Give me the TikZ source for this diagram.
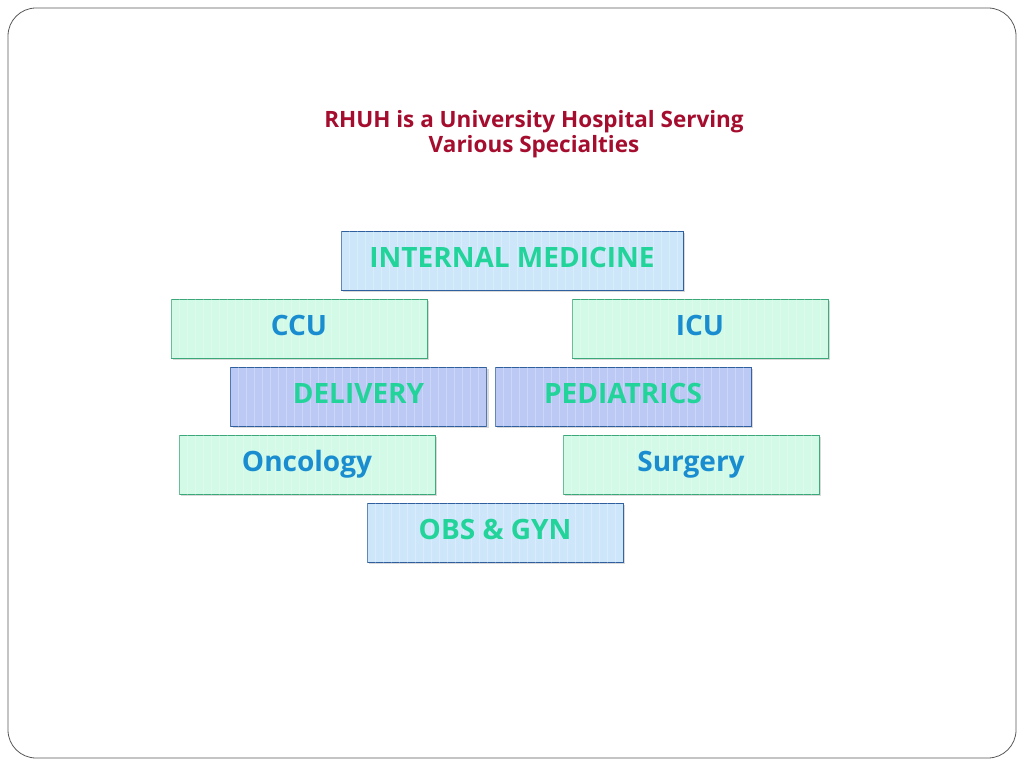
\documentclass[tikz,border=0pt]{standalone}
\usepackage{fontspec}
\setmainfont{Open Sans}
\usetikzlibrary{shadows}
\definecolor{tred}{HTML}{A50D2E}
\definecolor{tgreen}{HTML}{22D39A}
\definecolor{tblue}{HTML}{1A8CD0}
\definecolor{fblue}{HTML}{CDE6FA}
\definecolor{fgreen}{HTML}{D2FAE6}
\definecolor{flav}{HTML}{BCC9F4}
\definecolor{dblue}{HTML}{2F5F9E}
\definecolor{dgreen}{HTML}{3AA878}
\tikzset{
 box/.style={minimum width=256pt, minimum height=59pt, inner sep=0pt, drop shadow={shadow xshift=2pt,shadow yshift=-2pt,opacity=0.3}},
 bl/.style={box, fill=fblue, draw=dblue},
 gr/.style={box, fill=fgreen, draw=dgreen},
 lv/.style={box, fill=flav, draw=dblue},
 lab/.style={font=\bfseries\fontsize{28}{32}\selectfont, inner sep=0pt, text height=20pt, text depth=6pt},
}
\begin{document}
\begin{tikzpicture}[x=1pt,y=1pt]
\useasboundingbox (0,0) rectangle (1024,768);
\draw[gray!70!black, rounded corners=28pt, line width=0.8pt] (8,10) rectangle (1016,760) ;
\node[text=tred, font=\bfseries\fontsize{22.5}{24.5}\selectfont, align=center] (title) at (534,634) {RHUH is a University Hospital Serving\\Various Specialties};
\node[bl, minimum width=342pt] (im) at (512,507.5) {};
\node[gr] (ccu) at (299,439.5) {};
\node[gr] (icu) at (700,439.5) {};
\node[lv] (del) at (358.5,371) {};
\node[lv] (ped) at (623,371) {};
\node[gr] (onc) at (307,303) {};
\node[gr] (sur) at (691,303) {};
\node[bl] (obs) at (495,235) {};
\foreach \n in {im,ccu,icu,del,ped,onc,sur,obs}{
  \begin{scope}
  \clip (\n.south west) rectangle (\n.north east);
  \foreach \i in {0,8,...,340}{\draw[white,opacity=0.25,line width=0.5pt] ([xshift=\i pt]\n.south west) -- ([xshift=\i pt]\n.north west);}
  \end{scope}
}
\node[lab,text=tgreen] (tim) at (im) {INTERNAL MEDICINE};
\node[lab,text=tblue] (tccu) at (ccu) {CCU};
\node[lab,text=tblue] (ticu) at (icu) {ICU};
\node[lab,text=tgreen] (tdel) at (del) {DELIVERY};
\node[lab,text=tgreen] (tped) at (ped) {PEDIATRICS};
\node[lab,text=tblue] (tonc) at (onc) {Oncology};
\node[lab,text=tblue] (tsur) at (sur) {Surgery};
\node[lab,text=tgreen] (tobs) at (obs) {OBS \& GYN};
\end{tikzpicture}
\end{document}
